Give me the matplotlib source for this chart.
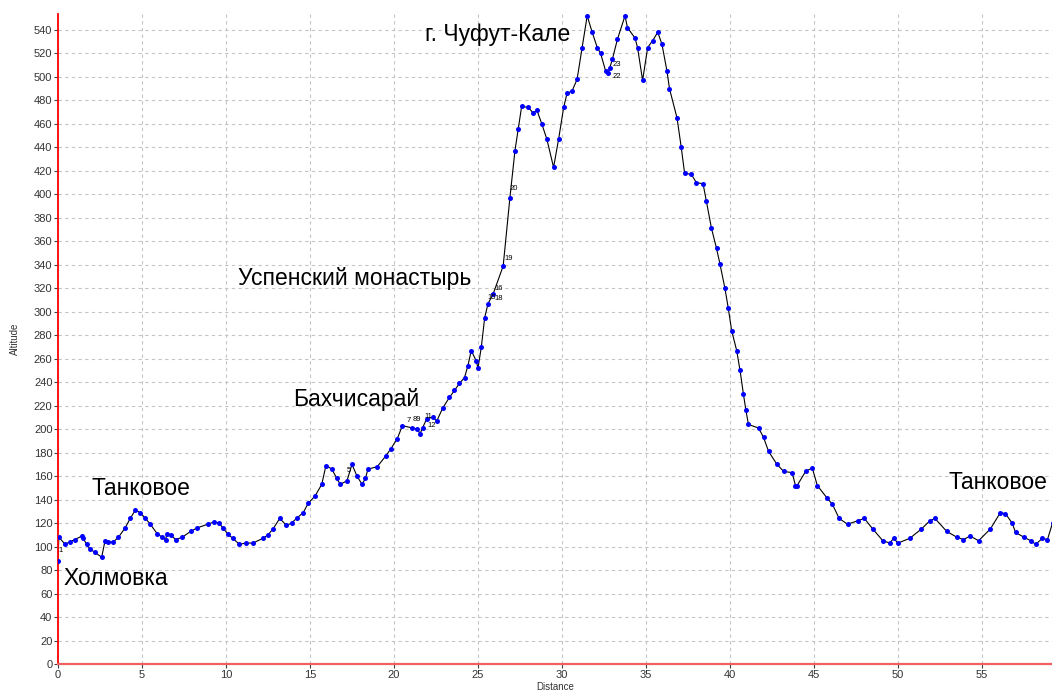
import matplotlib
matplotlib.use("Agg")
import matplotlib.pyplot as plt

# track profile (km, m)
dist = [0.0, 0.05, 0.42, 0.7, 1.0, 1.43, 1.5, 1.7, 1.9, 2.2, 2.6, 2.8, 3.0, 3.3, 3.6,
        4.0, 4.3, 4.6, 4.9, 5.2, 5.5, 5.9, 6.2, 6.4, 6.5, 6.7, 7.0, 7.4, 7.9, 8.3,
        8.9, 9.3, 9.6, 9.8, 10.1, 10.4, 10.8, 11.2, 11.6, 12.2, 12.5, 12.8, 13.2, 13.6, 13.9,
        14.2, 14.6, 14.9, 15.3, 15.7, 15.95, 16.3, 16.6, 16.8, 17.2, 17.5, 17.8, 18.1, 18.3, 18.45,
        19.0, 19.5, 19.8, 20.2, 20.5, 21.1, 21.4, 21.55, 21.7, 21.95, 22.3, 22.55, 22.9, 23.3, 23.6,
        23.9, 24.2, 24.4, 24.6, 24.9, 25.0, 25.2, 25.4, 25.6, 25.9, 26.5, 26.9, 27.2, 27.4, 27.6,
        28.0, 28.3, 28.5, 28.8, 29.1, 29.5, 29.8, 30.1, 30.3, 30.6, 30.9, 31.2, 31.5, 31.8, 32.1,
        32.3, 32.6, 32.75, 32.85, 33.0, 33.3, 33.75, 33.9, 34.35, 34.5, 34.8, 35.1, 35.4, 35.7, 35.95,
        36.25, 36.4, 36.85, 37.1, 37.3, 37.7, 38.0, 38.4, 38.6, 38.9, 39.2, 39.4, 39.7, 39.9, 40.1,
        40.4, 40.6, 40.8, 40.95, 41.1, 41.7, 42.0, 42.3, 42.8, 43.2, 43.7, 43.9, 44.0, 44.5, 44.9,
        45.2, 45.8, 46.1, 46.5, 47.0, 47.6, 48.0, 48.5, 49.1, 49.5, 49.75, 50.0, 50.7, 51.4, 51.9,
        52.2, 52.9, 53.5, 53.9, 54.3, 54.8, 55.5, 56.1, 56.4, 56.8, 57.0, 57.5, 57.9, 58.2, 58.6,
        58.9, 59.2]
alt = [88, 108, 102, 104, 106, 109, 107, 102, 98, 95, 91, 105, 104, 104, 108,
       116, 124, 131, 129, 124, 119, 111, 108, 106, 111, 110, 106, 108, 113, 116,
       119, 121, 120, 116, 111, 107, 102, 103, 103, 107, 110, 115, 124, 118, 120,
       124, 129, 137, 143, 153, 169, 166, 158, 153, 156, 170, 160, 153, 158, 166,
       168, 177, 183, 192, 203, 201, 200, 196, 201, 209, 210, 207, 218, 227, 233,
       239, 244, 254, 267, 258, 252, 270, 295, 307, 315, 339, 397, 437, 456, 475,
       474, 469, 472, 460, 447, 423, 447, 474, 486, 488, 498, 525, 552, 538, 525,
       520, 505, 503, 508, 515, 532, 552, 542, 533, 525, 497, 525, 531, 538, 528,
       505, 490, 465, 440, 418, 417, 410, 409, 394, 371, 354, 341, 320, 303, 284,
       267, 250, 230, 216, 204, 201, 193, 181, 170, 164, 163, 152, 152, 164, 167,
       152, 141, 136, 124, 119, 122, 124, 115, 105, 103, 107, 103, 107, 115, 122,
       124, 113, 108, 106, 109, 105, 115, 129, 128, 120, 112, 108, 105, 102, 107,
       106, 120]

# numbered waypoints
wp_names = ["1", "5", "7", "89", "11", "12", "15", "16", "18", "19", "20", "22", "23"]
wp_dist = [0.05, 17.2, 20.75, 21.1, 21.8, 22.0, 25.55, 26.0, 26.0, 26.6, 26.9, 33.0, 33.0]
wp_alt = [97, 165, 207, 208, 211, 203, 312, 320, 311, 345, 405, 500, 511]

# place names
place_names = ["Холмовка", "Танковое", "Бахчисарай", "Успенский монастырь",
               "г. Чуфут-Кале", "Танковое"]
place_dist = [0.3, 2.0, 14.0, 10.7, 21.85, 53.0]
place_alt = [67, 144, 220, 323, 531, 149]

plt.rcParams['font.family'] = ['Liberation Sans', 'DejaVu Sans']

fig = plt.figure(figsize=(10.52, 6.93), dpi=100)
ax = fig.add_axes([58 / 1052, 29 / 693, 994 / 1052, 650 / 693])

ax.plot(dist, alt, color='black', linewidth=0.8, zorder=2)
ax.plot(dist, alt, linestyle='none', marker='o', markersize=3.6,
        color='#0000ff', markeredgewidth=0, zorder=3)

for name, x, y in zip(wp_names, wp_dist, wp_alt):
    ax.text(x, y, name, fontsize=5.5, color='black', ha='left', va='center', zorder=4)

for name, x, y in zip(place_names, place_dist, place_alt):
    ax.text(x, y, name, fontsize=16.5, color='black', ha='left', va='baseline', zorder=5)

ax.set_xlim(0, 59.17)
ax.set_ylim(0, 553.6)
ax.set_xticks(range(0, 60, 5))
ax.set_yticks(range(0, 541, 20))

ax.grid(True, color='#c4c4c4', linestyle=(0, (3, 3)), linewidth=0.8)
ax.set_axisbelow(True)

for side in ['top', 'right']:
    ax.spines[side].set_visible(False)
ax.spines['left'].set_color('#ff0000')
ax.spines['left'].set_linewidth(1.3)
ax.spines['bottom'].set_color('#f06060')
ax.spines['bottom'].set_linewidth(1.6)

ax.tick_params(axis='both', direction='out', length=3, width=0.8, color='#404040',
               labelsize=8, labelcolor='#333333', pad=1)

ax.set_xlabel('Distance', fontsize=7, color='#333333')
ax.xaxis.set_label_coords(0.5, -0.027)
ax.set_ylabel('Altitude', fontsize=7, color='#333333')
ax.yaxis.set_label_coords(-0.038, 0.5)

fig.savefig('out.png', dpi=100)
